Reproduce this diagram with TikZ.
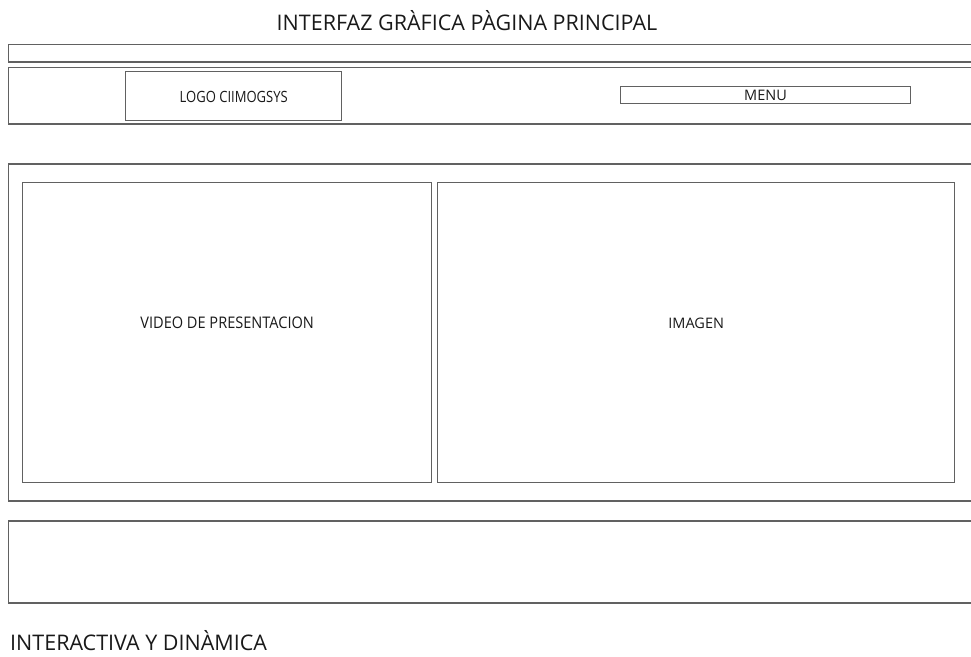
\documentclass[tikz,border=0pt]{standalone}
\usepackage{fontspec}
\setmainfont{Open Sans}
\begin{document}
\begin{tikzpicture}[x=1pt,y=-1pt,
  frame/.style={draw=black!62,line width=1.4pt},
  box/.style={draw=black!62,line width=1.4pt,inner sep=0pt,anchor=north west},
  lbl/.style={text=black!90,inner sep=0pt}]
\useasboundingbox (0,0) rectangle (971,656);
\clip (0,0) rectangle (971,656);
\node[font=\fontsize{21.5}{24}\selectfont,text=black!90,anchor=base,inner sep=0pt] (title) at (467,30) {INTERFAZ GRÀFICA PÀGINA PRINCIPAL};
\draw[frame] (8.5,44.5) rectangle (990,62);
\draw[frame] (8.5,67.5) rectangle (990,124);
\node[box,minimum width=216pt,minimum height=49pt] (logo) at (125,71) {};
\node[lbl,font=\fontsize{15.5}{18}\selectfont,xscale=0.84,anchor=base] at (logo.center |- 0,102) {LOGO CIIMOGSYS};
\node[box,line width=1pt,minimum width=290pt,minimum height=17pt] (menu) at (620,86) {};
\node[lbl,font=\fontsize{14.5}{17}\selectfont,anchor=base] at (menu.center |- 0,100) {MENU};
\draw[frame] (8.5,164) rectangle (990,501);
\node[box,minimum width=409pt,minimum height=300pt] (video) at (22,182) {};
\node[lbl,font=\fontsize{16}{19}\selectfont,xscale=0.91,anchor=base] at (video.center |- 0,328) {VIDEO DE PRESENTACION};
\node[box,minimum width=517pt,minimum height=300pt] (imagen) at (437,182) {};
\node[lbl,font=\fontsize{14.5}{17}\selectfont,anchor=base] at (imagen.center |- 0,328) {IMAGEN};
\draw[frame] (8.5,521) rectangle (990,603);
\node[font=\fontsize{21.5}{24}\selectfont,text=black!90,anchor=base west,inner sep=0pt] (sub) at (10,650) {INTERACTIVA Y DINÀMICA};
\end{tikzpicture}
\end{document}
